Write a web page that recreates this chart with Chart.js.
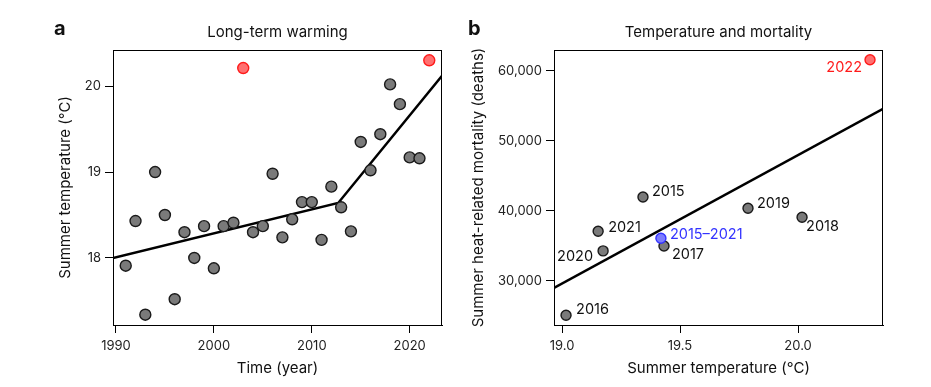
<!DOCTYPE html>
<html>
<head>
<meta charset="utf-8">
<script src="https://cdn.jsdelivr.net/npm/chart.js@4/dist/chart.umd.min.js"></script>
<style>
  body { margin: 0; background: #fff; }
  #wrap { position: relative; width: 931px; height: 387px; }
  canvas { position: absolute; top: 0; }
  #chartA { left: 0; }
  #chartB { left: 465px; }
</style>
</head>
<body>
<div id="wrap">
  <canvas id="chartA" width="465" height="387"></canvas>
  <canvas id="chartB" width="466" height="387"></canvas>
</div>
<script>
// panel a: summer temperature by year
const years = [1991, 1992, 1993, 1994, 1995, 1996, 1997, 1998, 1999, 2000, 2001, 2002, 2003, 2004, 2005, 2006,
  2007, 2008, 2009, 2010, 2011, 2012, 2013, 2014, 2015, 2016, 2017, 2018, 2019, 2020, 2021, 2022];
const summerTemp = [17.91, 18.43, 17.34, 19.0, 18.5, 17.52, 18.30, 18.0, 18.37, 17.88, 18.37, 18.41, 20.21, 18.30, 18.37, 18.98,
  18.24, 18.45, 18.65, 18.65, 18.21, 18.83, 18.59, 18.31, 19.35, 19.02, 19.44, 20.02, 19.79, 19.17, 19.16, 20.30];
const highlightYears = [2003, 2022];
const trendYears = [1989.7, 2012.7, 2023.3];
const trendTemp = [18.0, 18.64, 20.12];
const yearTicks = [1990, 2000, 2010, 2020];
const tempTicksA = [18, 19, 20];

// panel b: temperature vs heat-related deaths
const mortYears = ['2015', '2016', '2017', '2018', '2019', '2020', '2021', '2022'];
const mortTemp = [19.343, 19.017, 19.432, 20.017, 19.788, 19.174, 19.153, 20.305];
const mortDeaths = [42000, 25100, 35000, 39100, 40400, 34300, 37100, 61600];
const meanLabel = '2015–2021';
const meanTemp = [19.419];
const meanDeaths = [36100];
const fitTemp = [18.966, 20.36];
const fitDeaths = [29000, 54600];
const tempTicksB = [19.0, 19.5, 20.0];
const deathTicks = [30000, 40000, 50000, 60000];

const FONT = 'Inter, "Liberation Sans", Arial, sans-serif';
const GRAY = '#7a7a7a', RED_FILL = '#ff7070', RED = '#ff1a1a', BLUE_FILL = '#7c7cff', BLUE = '#3333ff';

Chart.defaults.font.family = FONT;
Chart.defaults.color = '#222';

// box around plot, panel letter and title
const panelText = {
  id: 'panelText',
  afterDraw(chart, args, opts) {
    const { ctx, chartArea: a } = chart;
    ctx.save();
    ctx.strokeStyle = '#000';
    ctx.lineWidth = 1;
    ctx.strokeRect(Math.round(a.left) + 0.5, Math.round(a.top) + 0.5, Math.round(a.width) - 1, Math.round(a.height));
    ctx.fillStyle = '#111';
    ctx.textBaseline = 'middle';
    ctx.textAlign = 'center';
    ctx.font = '15px ' + FONT;
    ctx.fillText(opts.title, (a.left + a.right) / 2, 32);
    ctx.textAlign = 'left';
    ctx.font = 'bold 20px ' + FONT;
    ctx.fillText(opts.letter, opts.letterX, 29);
    ctx.restore();
  }
};

// year labels next to the points in panel b
const labelOffsets = {
  '2015': [9, -5, 'left'], '2016': [10, -6, 'left'], '2017': [8, 9, 'left'], '2018': [4, 9, 'left'],
  '2019': [9, -5, 'left'], '2020': [-10, 6, 'right'], '2021': [10, -4, 'left'], '2022': [-8, 8, 'right'],
  [meanLabel]: [9, -4, 'left']
};
const pointLabels = {
  id: 'pointLabels',
  afterDatasetsDraw(chart) {
    const { ctx, scales: { x, y } } = chart;
    ctx.save();
    ctx.font = '14.5px ' + FONT;
    ctx.textBaseline = 'middle';
    const put = (label, tx, ty, color) => {
      const [dx, dy, align] = labelOffsets[label];
      ctx.textAlign = align;
      ctx.fillStyle = color;
      ctx.fillText(label, x.getPixelForValue(tx) + dx, y.getPixelForValue(ty) + dy);
    };
    mortYears.forEach((yr, i) => put(yr, mortTemp[i], mortDeaths[i], yr === '2022' ? RED : '#111'));
    put(meanLabel, meanTemp[0], meanDeaths[0], BLUE);
    ctx.restore();
  }
};

const axisGrid = { drawOnChartArea: false, drawTicks: true, tickLength: 8, color: '#000', lineWidth: 1 };
const tickFont = { size: 13 };
const titleFont = { size: 15 };
const fixTicks = arr => scale => { scale.ticks = arr.map(v => ({ value: v })); };

new Chart(document.getElementById('chartA'), {
  type: 'scatter',
  data: {
    datasets: [{
      data: years.map((yr, i) => ({ x: yr, y: summerTemp[i] })),
      pointRadius: 5.5,
      borderWidth: 1.4,
      backgroundColor: ctx => highlightYears.includes(years[ctx.dataIndex]) ? RED_FILL : GRAY,
      borderColor: ctx => highlightYears.includes(years[ctx.dataIndex]) ? RED : '#1a1a1a',
      order: 1
    }, {
      type: 'line',
      data: trendYears.map((yr, i) => ({ x: yr, y: trendTemp[i] })),
      borderColor: '#000',
      borderWidth: 2.5,
      pointRadius: 0,
      order: 2
    }]
  },
  options: {
    responsive: false,
    animation: false,
    layout: { padding: { left: 52, top: 50, right: 23, bottom: 6 } },
    plugins: {
      legend: { display: false },
      tooltip: { enabled: false },
      panelText: { title: 'Long-term warming', letter: 'a', letterX: 54 }
    },
    scales: {
      x: {
        type: 'linear', min: 1989.7, max: 2023.3,
        afterBuildTicks: fixTicks(yearTicks),
        afterFit: s => { s.height = 56; },
        grid: axisGrid,
        border: { display: true, color: '#000' },
        ticks: { font: tickFont, padding: 5, callback: v => String(v) },
        title: { display: true, text: 'Time (year)', font: titleFont, color: '#111' }
      },
      y: {
        min: 17.22, max: 20.42,
        afterBuildTicks: fixTicks(tempTicksA),
        afterFit: s => { s.width = 61; },
        grid: axisGrid,
        border: { display: true, color: '#000' },
        ticks: { font: tickFont, padding: 4, callback: v => String(v) },
        title: { display: true, text: 'Summer temperature (°C)', font: titleFont, color: '#111' }
      }
    }
  },
  plugins: [panelText]
});

new Chart(document.getElementById('chartB'), {
  type: 'scatter',
  data: {
    datasets: [{
      data: mortTemp.map((t, i) => ({ x: t, y: mortDeaths[i] })),
      pointRadius: 5,
      borderWidth: 1.4,
      backgroundColor: ctx => mortYears[ctx.dataIndex] === '2022' ? RED_FILL : GRAY,
      borderColor: ctx => mortYears[ctx.dataIndex] === '2022' ? RED : '#1a1a1a',
      order: 2
    }, {
      data: meanTemp.map((t, i) => ({ x: t, y: meanDeaths[i] })),
      pointRadius: 5,
      borderWidth: 1.4,
      backgroundColor: BLUE_FILL,
      borderColor: BLUE,
      order: 1
    }, {
      type: 'line',
      data: fitTemp.map((t, i) => ({ x: t, y: fitDeaths[i] })),
      borderColor: '#000',
      borderWidth: 2.5,
      pointRadius: 0,
      order: 3
    }]
  },
  options: {
    responsive: false,
    animation: false,
    layout: { padding: { left: 0, top: 50, right: 48, bottom: 6 } },
    plugins: {
      legend: { display: false },
      tooltip: { enabled: false },
      panelText: { title: 'Temperature and mortality', letter: 'b', letterX: 3 }
    },
    scales: {
      x: {
        type: 'linear', min: 18.966, max: 20.36,
        afterBuildTicks: fixTicks(tempTicksB),
        afterFit: s => { s.height = 56; },
        grid: axisGrid,
        border: { display: true, color: '#000' },
        ticks: { font: tickFont, padding: 5, callback: v => v.toFixed(1) },
        title: { display: true, text: 'Summer temperature (°C)', font: titleFont, color: '#111' }
      },
      y: {
        min: 23714, max: 63000,
        afterBuildTicks: fixTicks(deathTicks),
        afterFit: s => { s.width = 89; },
        grid: axisGrid,
        border: { display: true, color: '#000' },
        ticks: { font: tickFont, padding: 4, callback: v => v.toLocaleString('en-US') },
        title: { display: true, text: 'Summer heat-related mortality (deaths)', font: titleFont, color: '#111' }
      }
    }
  },
  plugins: [panelText, pointLabels]
});
</script>
</body>
</html>
